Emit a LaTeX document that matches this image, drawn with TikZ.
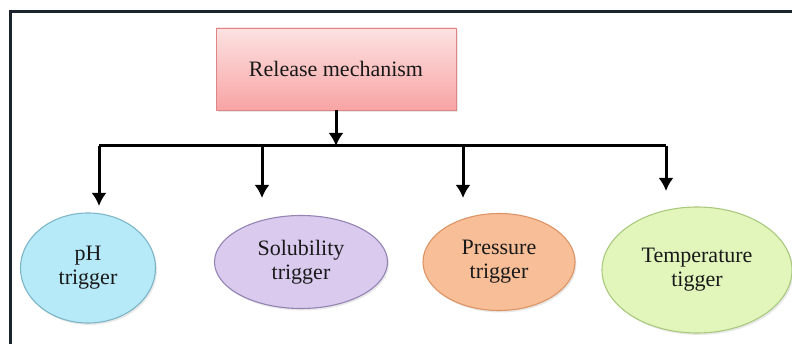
\documentclass[tikz,border=0pt]{standalone}
\usepackage{fontspec}
\setmainfont{Liberation Serif}
\usepackage{tikz}
\usetikzlibrary{arrows.meta,positioning,shapes.geometric,shadows}
\definecolor{rmtop}{HTML}{FDE2E2}
\definecolor{rmbot}{HTML}{F8A4A4}
\definecolor{rmedge}{HTML}{E08585}
\definecolor{phfill}{HTML}{B6EAF8}
\definecolor{phedge}{HTML}{7CB6C6}
\definecolor{solfill}{HTML}{D9CAEE}
\definecolor{soledge}{HTML}{9484B4}
\definecolor{presfill}{HTML}{F8BE98}
\definecolor{presedge}{HTML}{DC9464}
\definecolor{tempfill}{HTML}{E2F6BC}
\definecolor{tempedge}{HTML}{A9C97D}
\definecolor{framecol}{HTML}{1B232C}
\tikzset{
  trig-shadow/.style={drop shadow={shadow xshift=1.5pt, shadow yshift=-2pt, opacity=0.18}},
  trig-box/.style={draw=rmedge, top color=rmtop, bottom color=rmbot, line width=0.8pt,
    minimum width=240pt, minimum height=82pt, inner sep=0pt, trig-shadow,
    font=\fontsize{22}{24}\selectfont, text=black!90},
  trig-ellipse/.style={ellipse, line width=1.1pt, inner sep=0pt, align=center, trig-shadow,
    font=\fontsize{22}{24}\selectfont, text=black!90},
  trig-link/.style={draw=black, line width=3pt},
  trig-arrow/.style={trig-link, -{Latex[length=13pt,width=15pt]}},
  trig-frame/.style={draw=framecol, line width=3pt}
}
\begin{document}
\begin{tikzpicture}[x=1pt, y=-1pt]
  \useasboundingbox (0,0) rectangle (792,344);
  % Frame, cut off on the right and at the bottom
  \coordinate (fr-bl) at (10,344);
  \coordinate (fr-tl) at (10,12);
  \coordinate (fr-tr) at (792,12);
  \draw[trig-frame] (fr-bl) -- (fr-tl) -- (fr-tr);

  % Release box
  \node[trig-box] (rm) at (336,69) {Release mechanism};

  % Trigger ellipses
  \node[trig-ellipse, draw=phedge, fill=phfill, minimum width=135pt, minimum height=110pt]
    (ph) at (88,268) {pH\\trigger};
  \node[trig-ellipse, draw=soledge, fill=solfill, minimum width=173pt, minimum height=93pt]
    (sol) at (301,262) {Solubility\\trigger};
  \node[trig-ellipse, draw=presedge, fill=presfill, minimum width=152pt, minimum height=97pt]
    (pres) at (499,262) {Pressure\\trigger};
  \node[trig-ellipse, draw=tempedge, fill=tempfill, minimum width=190pt, minimum height=126pt]
    (temp) at (697,270) {Temperature\\tigger};

  % Branch bar
  \coordinate (bar-mid) at (rm.south |- 0,146);
  \coordinate (bar-ph) at (99,146);
  \coordinate (bar-sol) at (262,146);
  \coordinate (bar-pres) at (463,146);
  \coordinate (bar-temp) at (666,146);
  \coordinate (tip-ph) at (99,206);
  \coordinate (tip-sol) at (262,198);
  \coordinate (tip-pres) at (463,198);
  \coordinate (tip-temp) at (666,191);

  \draw[trig-arrow] (rm.south) -- (bar-mid);
  \draw[trig-link] (bar-ph) -- (bar-temp);
  \draw[trig-arrow] (bar-ph) -- (tip-ph);
  \draw[trig-arrow] (bar-sol) -- (tip-sol);
  \draw[trig-arrow] (bar-pres) -- (tip-pres);
  \draw[trig-arrow] (bar-temp) -- (tip-temp);
\end{tikzpicture}
\end{document}
